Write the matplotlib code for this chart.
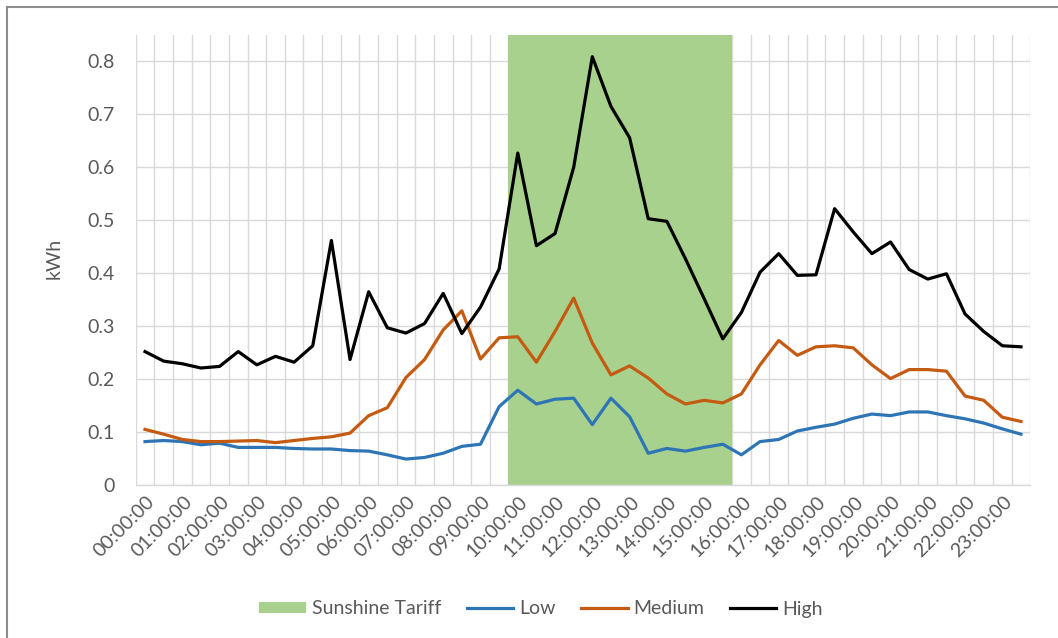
import matplotlib
matplotlib.use("Agg")
import numpy as np
import matplotlib.pyplot as plt
import matplotlib.transforms as mtransforms
from matplotlib.patches import Patch
from matplotlib.lines import Line2D

plt.rcParams['font.family'] = ['Lato', 'DejaVu Sans']

# Half-hourly time slots (48 per day)
slots = [f"{h:02d}:{m:02d}:00" for h in range(24) for m in (0, 30)]
hour_labels = ["00:00:00", "01:00:00", "02:00:00", "03:00:00", "04:00:00", "05:00:00",
               "06:00:00", "07:00:00", "08:00:00", "09:00:00", "10:00:00", "11:00:00",
               "12:00:00", "13:00:00", "14:00:00", "15:00:00", "16:00:00", "17:00:00",
               "18:00:00", "19:00:00", "20:00:00", "21:00:00", "22:00:00", "23:00:00"]

# 1 = slot falls within the Sunshine Tariff window
sunshine = [0, 0, 0, 0, 0, 0, 0, 0, 0, 0, 0, 0, 0, 0, 0, 0, 0, 0, 0, 0,
            1, 1, 1, 1, 1, 1, 1, 1, 1, 1, 1, 1,
            0, 0, 0, 0, 0, 0, 0, 0, 0, 0, 0, 0, 0, 0, 0, 0]

low = [0.082, 0.084, 0.082, 0.076, 0.079, 0.071, 0.071, 0.071, 0.069, 0.068,
       0.068, 0.065, 0.064, 0.057, 0.049, 0.052, 0.060, 0.073, 0.077, 0.148,
       0.179, 0.153, 0.162, 0.164, 0.114, 0.164, 0.129, 0.060, 0.069, 0.064,
       0.071, 0.077, 0.057, 0.082, 0.086, 0.102, 0.109, 0.115, 0.126, 0.134,
       0.131, 0.138, 0.138, 0.131, 0.125, 0.117, 0.106, 0.096]

medium = [0.105, 0.096, 0.086, 0.082, 0.082, 0.083, 0.084, 0.080, 0.084, 0.088,
          0.091, 0.098, 0.131, 0.146, 0.203, 0.237, 0.293, 0.329, 0.238, 0.278,
          0.280, 0.232, 0.290, 0.353, 0.268, 0.208, 0.225, 0.202, 0.172, 0.153,
          0.160, 0.155, 0.172, 0.227, 0.273, 0.245, 0.261, 0.263, 0.259, 0.227,
          0.201, 0.218, 0.218, 0.215, 0.168, 0.160, 0.128, 0.120]

high = [0.252, 0.234, 0.229, 0.221, 0.224, 0.252, 0.227, 0.243, 0.232, 0.263,
        0.462, 0.237, 0.365, 0.297, 0.287, 0.305, 0.362, 0.286, 0.336, 0.408,
        0.627, 0.452, 0.475, 0.600, 0.809, 0.715, 0.656, 0.503, 0.498, 0.427,
        0.352, 0.276, 0.326, 0.402, 0.437, 0.396, 0.397, 0.522, 0.478, 0.437,
        0.459, 0.407, 0.389, 0.399, 0.323, 0.290, 0.263, 0.261]

Y_TOP = 0.85
yticks = [0.0, 0.1, 0.2, 0.3, 0.4, 0.5, 0.6, 0.7, 0.8]
ytick_labels = ["0", "0.1", "0.2", "0.3", "0.4", "0.5", "0.6", "0.7", "0.8"]

GREEN = "#A9D18E"
BLUE = "#2E75B6"
ORANGE = "#C55A11"
BLACK = "#000000"
GRID = "#D9D9D9"
TEXT = "#595959"
FS = 14

W, H = 1058, 638
fig = plt.figure(figsize=(W / 100, H / 100), dpi=100)
fig.patch.set_facecolor("white")
ax = fig.add_axes([135.7 / W, 1 - 485 / H, (1030.3 - 135.7) / W, (485 - 35) / H])

x = np.arange(len(slots))
ax.bar(x, [Y_TOP * f for f in sunshine], width=1.0, color=GREEN, zorder=1)
ax.plot(x, low, color=BLUE, lw=2.3, zorder=3, solid_joinstyle='round')
ax.plot(x, medium, color=ORANGE, lw=2.3, zorder=3, solid_joinstyle='round')
ax.plot(x, high, color=BLACK, lw=2.3, zorder=3, solid_joinstyle='round')

ax.set_xlim(-0.5, len(slots) - 0.5)
ax.set_ylim(0, Y_TOP)

# category boundaries as vertical gridlines
ax.set_xticks(np.arange(-0.5, len(slots), 1.0), minor=True)
ax.set_xticks(x[::2])
ax.set_xticklabels(hour_labels, rotation=45, ha='right', va='center',
                   rotation_mode='anchor', color=TEXT, fontsize=FS)
ax.set_yticks(yticks)
ax.set_yticklabels(ytick_labels, color=TEXT, fontsize=FS)
ax.tick_params(axis='both', which='both', length=0)
ax.tick_params(axis='y', pad=15)
ax.tick_params(axis='x', pad=10)

offset = mtransforms.ScaledTranslation(7 / 100, 0, fig.dpi_scale_trans)
for lbl in ax.get_xticklabels():
    lbl.set_transform(lbl.get_transform() + offset)

ax.set_axisbelow(True)
ax.grid(which='minor', axis='x', color=GRID, lw=1.0)
ax.grid(which='major', axis='y', color=GRID, lw=1.0)
for side in ("top", "right", "left"):
    ax.spines[side].set_visible(False)
ax.spines["bottom"].set_color(GRID)
ax.spines["bottom"].set_linewidth(1.0)

ax.set_ylabel("kWh", color=TEXT, fontsize=FS)
ax.yaxis.set_label_coords((63 - 135.7) / (1030.3 - 135.7), (485 - 258) / 450)

handles = [Patch(facecolor=GREEN, edgecolor='none'),
           Line2D([], [], color=BLUE, lw=2.3),
           Line2D([], [], color=ORANGE, lw=2.3),
           Line2D([], [], color=BLACK, lw=2.3)]
fig.legend(handles, ["Sunshine Tariff", "Low", "Medium", "High"],
           loc='center', bbox_to_anchor=(541 / W, 1 - 609 / H), ncol=4,
           frameon=False, fontsize=FS, labelcolor=TEXT,
           handlelength=2.4, handleheight=0.55, handletextpad=0.3,
           columnspacing=1.3)

# chart frame (top and left edges)
fig.add_artist(Line2D([7 / W, 7 / W], [1 - 7 / H, 0], color="#8C8C8C", lw=1.5,
                      transform=fig.transFigure))
fig.add_artist(Line2D([7 / W, 1], [1 - 7 / H, 1 - 7 / H], color="#8C8C8C", lw=1.5,
                      transform=fig.transFigure))

fig.savefig("out.png", dpi=100, facecolor="white")
